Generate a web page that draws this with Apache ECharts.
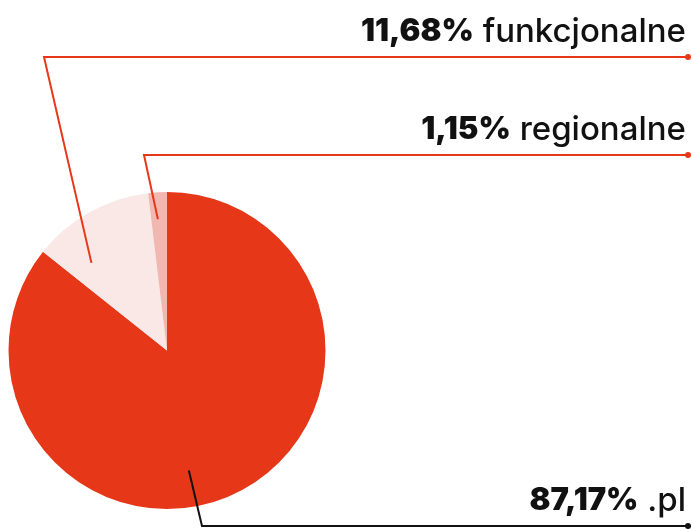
<!DOCTYPE html>
<html>
<head>
<meta charset="utf-8">
<script src="https://cdn.jsdelivr.net/npm/echarts@6/dist/echarts.min.js"></script>
<style>html,body{margin:0;padding:0;background:#fff}#c{width:691px;height:529px}</style>
</head>
<body>
<div id="c"></div>
<script>
const categories = ['.pl', 'funkcjonalne', 'regionalne'];
// slice sizes as drawn in the picture (share of the circle)
const values = [85.7, 12.4, 1.9];
// percentage labels as printed
const valueLabels = ['87,17%', '11,68%', '1,15%'];

const sliceColors = ['#e63819', '#f9e8e6', '#f0b8b1'];
const lineColors = ['#111111', '#e63819', '#e63819'];
const CX = 167, CY = 350.5, R = 158.5;
// label-line layout: anchor within slice (angle fraction, radius fraction), elbow x, line y
const labelCfg = [
  { frac: 0.55, rf: 0.77, elbowX: 202, lineY: 526, endX: 691 },
  { frac: 0.24, rf: 0.73, elbowX: 44, lineY: 57, endX: 688 },
  { frac: 0.42, rf: 0.83, elbowX: 144, lineY: 155, endX: 688 }
];
const total = values.reduce((a, b) => a + b, 0);
const cum = [];
values.reduce((acc, v, i) => { cum[i] = acc; return acc + v; }, 0);

const baseSeries = {
  type: 'pie',
  center: [CX, CY],
  radius: R,
  startAngle: 90,
  clockwise: true,
  avoidLabelOverlap: false,
  silent: true
};

const chart = echarts.init(document.getElementById('c'));
chart.setOption({
  animation: false,
  series: [
    Object.assign({}, baseSeries, {
      z: 2,
      label: { show: false },
      labelLine: { show: false },
      data: categories.map((c, i) => ({ name: c, value: values[i], itemStyle: { color: sliceColors[i] } }))
    }),
    Object.assign({}, baseSeries, {
      z: 5,
      itemStyle: { color: 'rgba(0,0,0,0)' },
      data: categories.map((c, i) => ({
        name: c, value: values[i],
        labelLine: { lineStyle: { color: lineColors[i], width: 2 } },
        label: { rich: { d: { width: 6, height: 6, borderRadius: 3, backgroundColor: lineColors[i], lineHeight: 6 } } }
      })),
      label: {
        show: true,
        position: 'outside',
        overflow: 'none',
        formatter: p => `{v|${valueLabels[p.dataIndex]}}{n| ${categories[p.dataIndex]}}\n{d|}`,
        rich: {
          v: { fontFamily: 'Inter', fontWeight: 900, fontSize: 31, color: '#111', lineHeight: 44 },
          n: { fontFamily: 'Inter', fontWeight: 500, fontSize: 33, color: '#111', lineHeight: 44, padding: [0, 5, 0, 0] }
        }
      },
      labelLine: { show: true, smooth: false, showAbove: true },
      labelLayout: function (params) {
        const i = params.dataIndex;
        const cfg = labelCfg[i];
        const a0 = cum[i] / total * 360, a1 = (cum[i] + values[i]) / total * 360;
        const th = (a0 + (a1 - a0) * cfg.frac) * Math.PI / 180;
        const r = R * cfg.rf;
        const sx = CX + r * Math.sin(th), sy = CY - r * Math.cos(th);
        return {
          x: 691, y: cfg.lineY + 3, align: 'right', verticalAlign: 'bottom',
          labelLinePoints: [[sx, sy], [cfg.elbowX, cfg.lineY], [cfg.endX, cfg.lineY]]
        };
      }
    })
  ]
});
</script>
</body>
</html>
